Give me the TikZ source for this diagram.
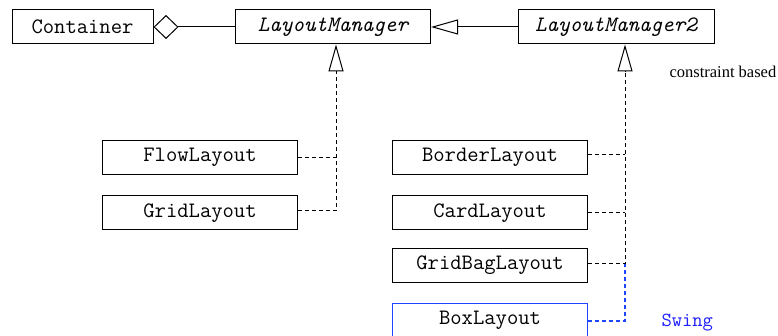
\documentclass[tikz,border=0pt]{standalone}
\usepackage{fontspec}
\setmainfont{Liberation Serif}
\usetikzlibrary{arrows.meta}
\definecolor{swblue}{RGB}{30,70,255}
\definecolor{swtext}{RGB}{30,30,255}
\tikzset{
  cls/.style={draw, line width=1pt, minimum height=34pt, inner sep=0pt, font=\fontsize{22}{24}\selectfont\ttfamily},
  dsh/.style={line width=1pt, dash pattern=on 4pt off 3pt},
  inh/.style={-{Triangle[open,length=27pt,width=15pt]}},
}
\begin{document}
\begin{tikzpicture}[x=1pt,y=-1pt]
\useasboundingbox (0,0) rectangle (778,336);
\node[cls, minimum width=141pt] (cont) at (82.5,27) {Container};
\node[cls, minimum width=195pt] (lm) at (333,27) {\itshape LayoutManager};
\node[cls, minimum width=196pt] (lm2) at (616,27) {\itshape LayoutManager2};
\node[cls, minimum width=195pt] (flow) at (200,157.5) {FlowLayout};
\node[cls, minimum width=195pt] (grid) at (200,213) {GridLayout};
\node[cls, minimum width=195pt] (border) at (490,157.5) {BorderLayout};
\node[cls, minimum width=195pt] (card) at (490,213) {CardLayout};
\node[cls, minimum width=195pt] (gbag) at (490,265.5) {GridBagLayout};
\node[cls, minimum width=195pt, draw=swblue, line width=1.3pt] (box) at (490,320.5) {BoxLayout};
\node[anchor=base west, font=\fontsize{16.5}{19}\selectfont] (cb) at (666,78) {constraint based};
\node[anchor=base west, text=swtext, font=\fontsize{20}{23}\selectfont\ttfamily] (sw) at (658,326) {Swing};
% joints
\coordinate (lt) at (336,71);
\coordinate (lj1) at (336,157.5);
\coordinate (lj2) at (336,211);
\coordinate (rt) at (625,71);
\coordinate (rj1) at (625,155);
\coordinate (rj2) at (625,213);
\coordinate (rj3) at (625,264);
\coordinate (rj4) at (625,321);
% aggregation
\draw[line width=1pt, {Diamond[open,length=25pt,width=24pt]}-] (cont.east) -- (lm.west);
% generalization
\draw[line width=1pt, inh] (lm2.west) -- (lm.east);
% left realizations
\draw[dsh] (flow.east |- lj1) -- (lj1);
\draw[dsh] (grid.east |- lj2) -- (lj2) -- (lt);
\draw[line width=1pt, inh] (lt) -- (lt |- lm.south);
% right realizations
\draw[dsh] (border.east |- rj1) -- (rj1);
\draw[dsh] (card.east |- rj2) -- (rj2);
\draw[dsh] (gbag.east |- rj3) -- (rj3) -- (rt);
\draw[dsh, draw=swblue, line width=1.3pt] (box.east |- rj4) -- (rj4) -- (rj3);
\draw[line width=1pt, inh] (rt) -- (rt |- lm2.south);
\end{tikzpicture}
\end{document}
